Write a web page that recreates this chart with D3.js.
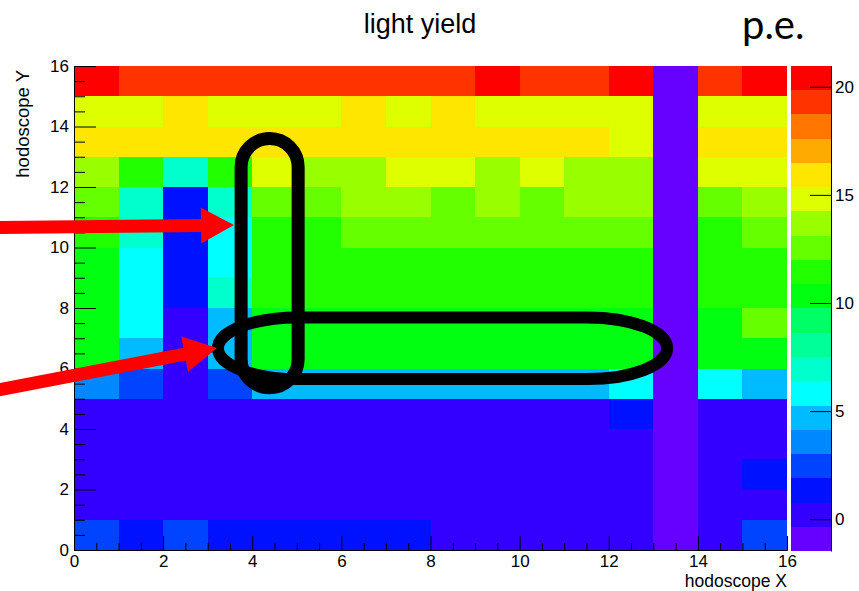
<!DOCTYPE html>
<html>
<head>
<meta charset="utf-8">
<script src="https://cdn.jsdelivr.net/npm/d3@7"></script>
<style>
body{margin:0;background:#fff;}
svg{display:block;}
text{font-family:"Liberation Sans",Arial,Helvetica,sans-serif;fill:#000;}
</style>
</head>
<body>
<svg width="859" height="591"></svg>
<script>
// light yield (p.e.) per hodoscope cell, one array per Y bin, X bins 0..15
var rowY15 = [20.6, 19.3, 19.2, 19.4, 19.1, 19.3, 19.2, 19.4, 19.3, 20.5, 19.2, 19.4, 20.3, -1.2, 19.3, 20.96];
var rowY14 = [14.8, 14.7, 15.9, 14.8, 14.9, 14.7, 15.8, 14.9, 15.9, 14.8, 14.7, 14.8, 14.9, -1.3, 14.8, 14.7];
var rowY13 = [15.9, 15.8, 16.0, 15.9, 15.8, 15.9, 16.0, 15.8, 15.9, 15.9, 16.0, 15.8, 14.8, -1.2, 15.9, 15.8];
var rowY12 = [13.7, 11.4, 6.9, 11.5, 14.8, 13.6, 13.7, 14.7, 14.8, 13.7, 14.8, 13.6, 13.7, -1.3, 14.8, 14.7];
var rowY11 = [12.6, 7.0, 1.3, 6.9, 12.5, 12.6, 13.7, 13.6, 12.5, 13.7, 12.6, 13.6, 13.7, -1.2, 12.5, 13.6];
var rowY10 = [11.4, 6.9, 1.4, 5.8, 11.5, 11.4, 12.6, 12.5, 12.6, 12.5, 12.6, 12.5, 12.6, -1.3, 11.4, 12.5];
var rowY9  = [10.3, 5.8, 1.3, 5.9, 11.4, 11.5, 11.4, 11.3, 11.4, 11.5, 11.4, 11.4, 11.5, -1.2, 11.4, 11.3];
var rowY8  = [10.4, 5.9, 1.3, 6.9, 11.4, 11.3, 11.5, 11.4, 11.4, 11.3, 11.5, 11.4, 11.4, -1.3, 11.5, 11.4];
var rowY7  = [10.3, 5.8, 0.2, 4.7, 10.3, 10.4, 10.3, 10.2, 10.3, 10.4, 10.3, 10.3, 10.2, -1.2, 10.3, 12.6];
var rowY6  = [10.4, 4.7, 0.3, 4.6, 10.3, 10.2, 10.4, 10.3, 10.3, 10.2, 10.4, 10.3, 10.3, -1.3, 10.4, 10.3];
var rowY5  = [3.6, 2.4, 0.2, 2.5, 4.7, 4.6, 4.7, 4.8, 4.7, 4.6, 4.7, 4.7, 5.8, -1.2, 5.9, 4.7];
var rowY4  = [0.2, 0.3, 0.2, 0.1, 0.2, 0.3, 0.2, 0.2, 0.3, 0.2, 0.1, 0.2, 1.3, -1.3, 0.2, 0.3];
var rowY3  = [0.3, 0.2, 0.1, 0.2, 0.3, 0.2, 0.2, 0.3, 0.2, 0.1, 0.2, 0.3, 0.2, -1.2, 0.2, 0.3];
var rowY2  = [0.2, 0.1, 0.2, 0.3, 0.2, 0.2, 0.3, 0.2, 0.1, 0.2, 0.3, 0.2, 0.2, -1.3, 0.2, 1.4];
var rowY1  = [0.1, 0.2, 0.3, 0.2, 0.2, 0.1, 0.2, 0.3, 0.2, 0.2, 0.2, 0.1, 0.3, -1.47, 0.2, 0.3];
var rowY0  = [2.4, 1.3, 2.5, 1.4, 1.3, 1.4, 1.3, 1.2, 0.2, 0.3, 0.2, 0.3, 0.2, -1.2, 0.3, 2.5];

var rows = [rowY0, rowY1, rowY2, rowY3, rowY4, rowY5, rowY6, rowY7,
            rowY8, rowY9, rowY10, rowY11, rowY12, rowY13, rowY14, rowY15];

var xTicks = [0, 2, 4, 6, 8, 10, 12, 14, 16];
var yTicks = [0, 2, 4, 6, 8, 10, 12, 14, 16];
var zTicks = [0, 5, 10, 15, 20];

// ROOT style palette, 20 contour levels, low -> high
var palette = ["#6600ff", "#3300ff", "#0011ff", "#0044ff", "#0088ff", "#00bbff", "#00ffff",
               "#00ffcc", "#00ff99", "#00ff66", "#00ff11", "#22ff00", "#66ff00", "#99ff00",
               "#ddff00", "#ffe600", "#ffaa00", "#ff7700", "#ff3300", "#ff0000"];

var svg = d3.select("svg");

var x = d3.scaleLinear().domain([0, 16]).range([74, 787]);
var y = d3.scaleLinear().domain([0, 16]).range([550, 66]);

var zExt = d3.extent(d3.merge(rows));
var color = d3.scaleQuantize().domain(zExt).range(palette);
var z = d3.scaleLinear().domain(zExt).range([551, 66]);

//==================================================
// cells
var cells = [];
rows.forEach(function(r, j) {
    r.forEach(function(v, i) {
        cells.push({i: i, j: j, v: v});
    });
});

svg.append("g")
    .attr("shape-rendering", "crispEdges")
    .selectAll("rect")
    .data(cells)
    .enter()
    .append("rect")
    .attr("x", function(d) { return Math.round(x(d.i)); })
    .attr("y", function(d) { return Math.round(y(d.j + 1)); })
    .attr("width", function(d) { return Math.round(x(d.i + 1)) - Math.round(x(d.i)); })
    .attr("height", function(d) { return Math.round(y(d.j)) - Math.round(y(d.j + 1)); })
    .attr("fill", function(d) { return color(d.v); });

//==================================================
// axes (ticks inside, like ROOT)
var minor = d3.range(0, 16.01, 0.5).filter(function(v) { return v % 2 != 0; });

function styleAxis(g) {
    g.selectAll("path, line").attr("stroke", "#000").attr("stroke-width", 1);
    g.selectAll("text")
        .attr("font-size", 17)
        .attr("font-family", "'Liberation Sans', Arial, sans-serif")
        .attr("fill", "#000");
}

svg.append("g")
    .attr("transform", "translate(0,550)")
    .call(d3.axisBottom(x).tickValues(minor).tickSize(-7).tickSizeOuter(0).tickFormat(""))
    .call(styleAxis);
svg.append("g")
    .attr("transform", "translate(0,550)")
    .call(d3.axisBottom(x).tickValues(xTicks).tickSize(-14).tickSizeOuter(0).tickPadding(5).tickFormat(d3.format("d")))
    .call(styleAxis);

svg.append("g")
    .attr("transform", "translate(74,0)")
    .call(d3.axisLeft(y).tickValues(minor).tickSize(-11).tickSizeOuter(0).tickFormat(""))
    .call(styleAxis);
svg.append("g")
    .attr("transform", "translate(74,0)")
    .call(d3.axisLeft(y).tickValues(yTicks).tickSize(-22).tickSizeOuter(0).tickPadding(5).tickFormat(d3.format("d")))
    .call(styleAxis);

//==================================================
// colour bar
svg.append("g")
    .attr("shape-rendering", "crispEdges")
    .selectAll("rect")
    .data(palette)
    .enter()
    .append("rect")
    .attr("x", 791)
    .attr("width", 41)
    .attr("y", function(c) { return Math.round(z(color.invertExtent(c)[1])); })
    .attr("height", function(c) {
        var e = color.invertExtent(c);
        return Math.round(z(e[0])) - Math.round(z(e[1]));
    })
    .attr("fill", function(c) { return c; });

svg.append("g")
    .attr("transform", "translate(831,0)")
    .call(d3.axisRight(z).tickValues(zTicks).tickSize(-21).tickSizeOuter(0).tickPadding(4).tickFormat(d3.format("d")))
    .call(styleAxis);

//==================================================
// titles
svg.append("text")
    .attr("x", 420).attr("y", 33)
    .attr("text-anchor", "middle")
    .attr("font-size", 27)
    .text("light yield");

svg.append("text")
    .attr("x", 742).attr("y", 39)
    .attr("font-size", 40)
    .style("font-family", "Lato, 'Open Sans', sans-serif")
    .text("p.e.");

svg.append("text")
    .attr("x", 787).attr("y", 587)
    .attr("text-anchor", "end")
    .attr("font-size", 17.5)
    .text("hodoscope X");

svg.append("text")
    .attr("transform", "translate(28.5,70) rotate(-90)")
    .attr("text-anchor", "end")
    .attr("font-size", 18.5)
    .text("hodoscope Y");

//==================================================
// hand drawn annotations (in hodoscope units)
var ann = svg.append("g");

// vertical pill around X bin 4
var vx0 = x(3.75), vx1 = x(5.03), vy0 = y(13.6), vy1 = y(5.36);
ann.append("rect")
    .attr("x", vx0).attr("y", vy0)
    .attr("width", vx1 - vx0).attr("height", vy1 - vy0)
    .attr("rx", (vx1 - vx0) / 2).attr("ry", (vx1 - vx0) / 2)
    .attr("fill", "none").attr("stroke", "#000").attr("stroke-width", 13);

// horizontal loop around Y bins 6-7
var hx0 = x(3.23), hx1 = x(13.31), hy0 = y(7.69), hy1 = y(5.65);
ann.append("rect")
    .attr("x", hx0).attr("y", hy0)
    .attr("width", hx1 - hx0).attr("height", hy1 - hy0)
    .attr("rx", 80).attr("ry", 31)
    .attr("fill", "none").attr("stroke", "#000").attr("stroke-width", 12);

function arrow(tail, tip) {
    var p0 = [x(tail[0]), y(tail[1])], p1 = [x(tip[0]), y(tip[1])];
    var dx = p1[0] - p0[0], dy = p1[1] - p0[1];
    var len = Math.sqrt(dx * dx + dy * dy);
    var ux = dx / len, uy = dy / len, nx = -uy, ny = ux;
    var hw = 6.5, hh = 18, hl = 33;
    var bx = p1[0] - ux * hl, by = p1[1] - uy * hl;
    var pts = [
        [p0[0] + nx * hw, p0[1] + ny * hw],
        [bx + nx * hw, by + ny * hw],
        [bx + nx * hh, by + ny * hh],
        p1,
        [bx - nx * hh, by - ny * hh],
        [bx - nx * hw, by - ny * hw],
        [p0[0] - nx * hw, p0[1] - ny * hw]
    ];
    ann.append("path")
        .attr("d", d3.line()(pts) + "Z")
        .attr("fill", "#ff0000");
}

arrow([-1.8, 10.66], [3.59, 10.74]);
arrow([-1.8, 5.26], [3.21, 6.68]);
</script>
</body>
</html>
